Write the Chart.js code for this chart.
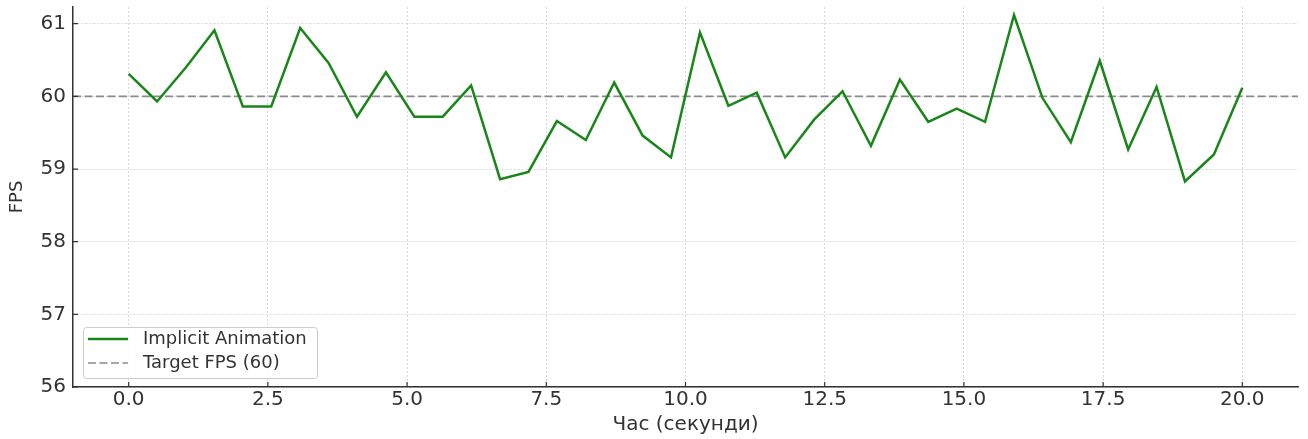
<!DOCTYPE html>
<html>
<head>
<meta charset="utf-8">
<script src="https://cdn.jsdelivr.net/npm/chart.js@4/dist/chart.umd.min.js"></script>
<style>
  html, body { margin: 0; padding: 0; background: #fff; }
  #wrap { width: 1308px; height: 439px; }
</style>
</head>
<body>
<div id="wrap"><canvas id="fpsChart" width="1308" height="439"></canvas></div>
<script>
/* DATA */
const timeSec = [0.00, 0.51, 1.03, 1.54, 2.05, 2.56, 3.08, 3.59, 4.10, 4.62,
                 5.13, 5.64, 6.15, 6.67, 7.18, 7.69, 8.21, 8.72, 9.23, 9.74,
                 10.26, 10.77, 11.28, 11.79, 12.31, 12.82, 13.33, 13.85, 14.36, 14.87,
                 15.38, 15.90, 16.41, 16.92, 17.44, 17.95, 18.46, 18.97, 19.49, 20.00];
const fpsImplicit = [60.31, 59.93, 60.40, 60.91, 59.86, 59.86, 60.94, 60.46, 59.72, 60.33,
                     59.72, 59.72, 60.15, 58.86, 58.96, 59.66, 59.40, 60.19, 59.46, 59.16,
                     60.88, 59.87, 60.05, 59.16, 59.68, 60.07, 59.32, 60.23, 59.65, 59.83,
                     59.65, 61.12, 59.98, 59.37, 60.49, 59.27, 60.13, 58.83, 59.20, 60.12];
const targetFps = 60;
const xTicks = [0, 2.5, 5, 7.5, 10, 12.5, 15, 17.5, 20];
const yTicks = [56, 57, 58, 59, 60, 61];
const xRange = [-1, 21];
const yRange = [56, 61.23];

const FONT = "'DejaVu Sans', sans-serif";
const INK = "#333333";

/* inward tick marks, like the original */
const innerTicks = {
  id: "innerTicks",
  afterDraw(chart) {
    const { ctx, chartArea, scales } = chart;
    ctx.save();
    ctx.strokeStyle = INK;
    ctx.lineWidth = 1.2;
    ctx.beginPath();
    xTicks.forEach(v => {
      const px = scales.x.getPixelForValue(v);
      ctx.moveTo(px, chartArea.bottom);
      ctx.lineTo(px, chartArea.bottom - 5);
    });
    yTicks.forEach(v => {
      const py = scales.y.getPixelForValue(v);
      ctx.moveTo(chartArea.left, py);
      ctx.lineTo(chartArea.left + 5, py);
    });
    ctx.stroke();
    ctx.restore();
  }
};

/* legend box in lower left of the plot */
const boxLegend = {
  id: "boxLegend",
  afterDraw(chart) {
    const { ctx, chartArea } = chart;
    const x0 = chartArea.left + 10, y0 = chartArea.bottom - 60;
    const w = 234, h = 51;
    ctx.save();
    ctx.fillStyle = "rgba(255,255,255,0.85)";
    ctx.strokeStyle = "#cccccc";
    ctx.lineWidth = 1;
    ctx.beginPath();
    ctx.roundRect(x0 + 0.5, y0 + 0.5, w, h, 3);
    ctx.fill();
    ctx.stroke();

    ctx.font = "18px " + FONT;
    ctx.textBaseline = "middle";
    chart.data.datasets.forEach((ds, i) => {
      const ly = y0 + 12 + i * 24;
      ctx.strokeStyle = ds.borderColor;
      ctx.lineWidth = ds.borderWidth;
      ctx.setLineDash(ds.borderDash || []);
      ctx.beginPath();
      ctx.moveTo(x0 + 5, ly);
      ctx.lineTo(x0 + 45, ly);
      ctx.stroke();
      ctx.setLineDash([]);
      ctx.fillStyle = INK;
      ctx.fillText(ds.label, x0 + 60, ly);
    });
    ctx.restore();
  }
};

new Chart(document.getElementById("fpsChart"), {
  type: "line",
  data: {
    datasets: [
      {
        label: "Implicit Animation",
        data: timeSec.map((t, i) => ({ x: t, y: fpsImplicit[i] })),
        borderColor: "#1a861a",
        borderWidth: 2.5,
        pointRadius: 0,
        tension: 0
      },
      {
        label: "Target FPS (60)",
        data: xRange.map(t => ({ x: t, y: targetFps })),
        borderColor: "#8a8a8a",
        borderWidth: 1.6,
        borderDash: [8, 3.5],
        pointRadius: 0,
        tension: 0
      }
    ]
  },
  options: {
    responsive: false,
    animation: false,
    layout: { padding: { top: 7, right: 10, left: 0, bottom: 0 } },
    plugins: { legend: { display: false }, tooltip: { enabled: false } },
    scales: {
      x: {
        type: "linear",
        min: xRange[0],
        max: xRange[1],
        afterBuildTicks: s => { s.ticks = xTicks.map(v => ({ value: v })); },
        afterFit: s => { s.height = 52; s.paddingLeft = 0; s.paddingRight = 0; },
        ticks: {
          color: INK,
          font: { family: FONT, size: 20 },
          padding: 1,
          maxRotation: 0,
          callback: v => v.toFixed(1)
        },
        grid: { color: "#d4d4d4", lineWidth: 0.9, drawTicks: false },
        border: { color: INK, width: 1.5, dash: [2, 2] },
        title: {
          display: true,
          text: "Час (секунди)",
          color: INK,
          font: { family: FONT, size: 20 },
          padding: { top: 0, bottom: 2 }
        }
      },
      y: {
        min: yRange[0],
        max: yRange[1],
        afterBuildTicks: s => { s.ticks = yTicks.map(v => ({ value: v })); },
        afterFit: s => { s.width = 73; s.paddingTop = 0; s.paddingBottom = 0; },
        ticks: {
          color: INK,
          font: { family: FONT, size: 20 },
          padding: 7
        },
        grid: { color: "#d4d4d4", lineWidth: 0.9, drawTicks: false },
        border: { color: INK, width: 1.5, dash: [2, 2] },
        title: {
          display: true,
          text: "FPS",
          color: INK,
          font: { family: FONT, size: 18 },
          padding: { top: 7, bottom: 0 }
        }
      }
    }
  },
  plugins: [innerTicks, boxLegend]
});
</script>
</body>
</html>
